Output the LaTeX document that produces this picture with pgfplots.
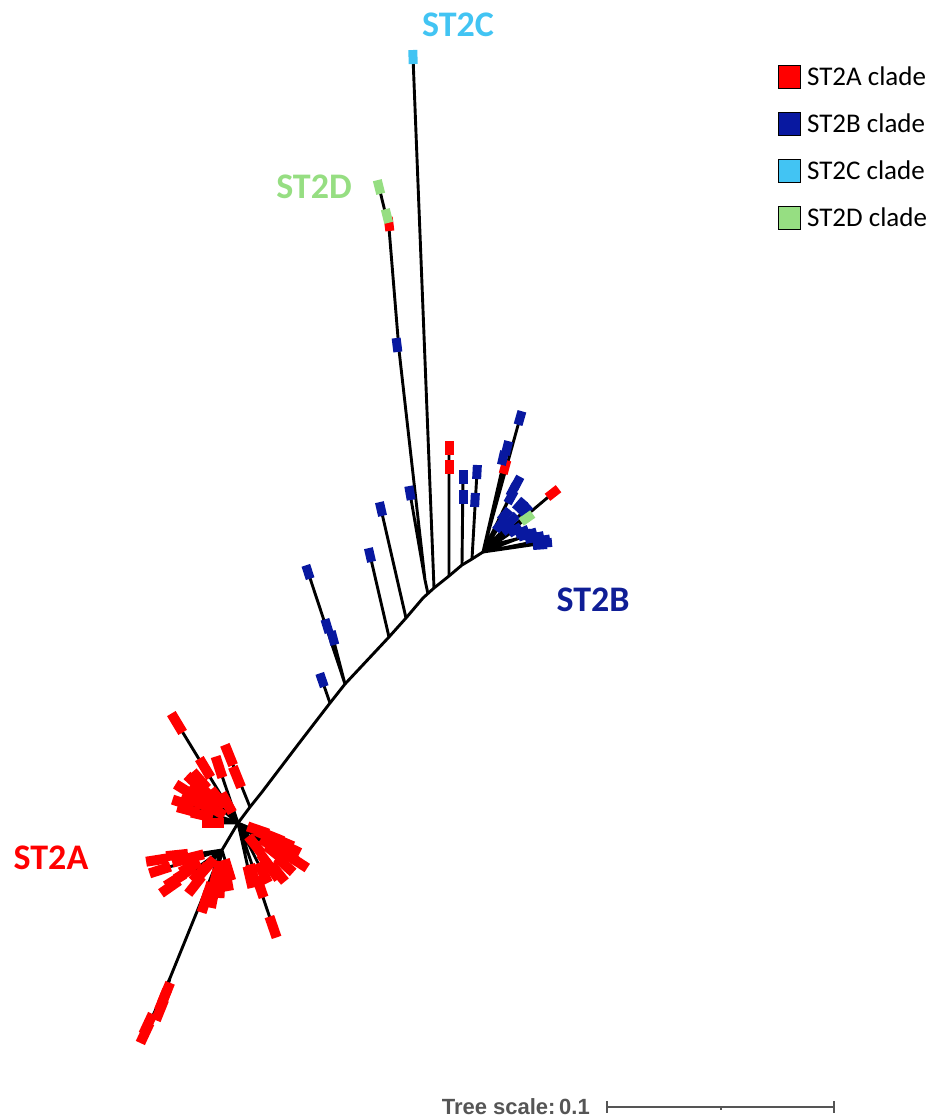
\documentclass[border=0pt]{standalone}
\usepackage{pgfplots}
\pgfplotsset{compat=1.18}
\usepackage{pgfplotstable}
\usepackage{fontspec}
\setmainfont{Carlito}
\newfontfamily\arialfont{Liberation Sans}
\definecolor{tipRed}{RGB}{255,0,0}
\definecolor{tipBlue}{RGB}{8,24,160}
\definecolor{tipCyan}{RGB}{66,196,243}
\definecolor{tipGreen}{RGB}{150,222,130}
\definecolor{lblBlue}{RGB}{15,30,150}
\definecolor{scaleGray}{RGB}{85,85,85}
\pgfdeclareplotmark{tipL}{\pgfpathrectangle{\pgfqpoint{-5pt}{-11pt}}{\pgfqpoint{10pt}{22pt}}\pgfusepathqfill}
\pgfdeclareplotmark{tipS}{\pgfpathrectangle{\pgfqpoint{-4.5pt}{-7pt}}{\pgfqpoint{9pt}{14pt}}\pgfusepathqfill}

% tips: x y rotation (pixel coordinates, y downward)
\pgfplotstableread{
x y a
177 723 31
205 768 31
229 755 22
237 777 22
219 767 18
195 783 47
202 788 46
210 800 51
188 810 75
202 815 77
213 823 90
218 798 39
227 803 29
197 795 56
192 800 65
205 806 62
183 803 72
185 790 58
200 780 41
215 810 60
298 862 57
283 842 67
280 850 57
275 853 51
278 873 39
272 870 36
267 863 36
265 835 66
258 830 71
273 837 68
260 887 19
253 875 16
273 927 19
263 873 27
250 877 13
288 855 55
290 848 64
270 845 55
285 865 48
255 845 38
157 860 -81
160 870 -72
170 887 -55
177 855 -84
183 860 -76
190 867 -62
200 873 -44
193 857 -76
207 867 -41
215 880 -13
220 887 -3
208 893 -18
213 897 -11
205 902 -18
228 870 17
227 880 10
185 873 -58
175 880 -58
195 885 -38
218 872 -10
145 1033 -25
148 1024 -25
160 1010 -22
163 1000 -22
166 993 -22
}\tipsRedA
\pgfplotstableread{
x y a
449 448 0
449 467 0
505 467 -15
553 493 -52
389 224 7
}\tipsRedB
\pgfplotstableread{
x y a
322 680 19
308 572 18
327 626 17
333 638 15
370 555 13
381 509 13
410 493 10
397 345 7
463 477 0
463 497 0
477 472 -3
475 500 -3
520 418 -16
507 448 -14
503 458 -13
517 483 -28
513 490 -28
511 497 -29
520 505 -41
525 510 -48
500 525 -37
508 528 -51
515 530 -60
522 532 -67
530 534 -73
537 537 -78
543 540 -82
545 543 -85
540 545 -86
532 538 -78
525 535 -72
512 520 -45
505 515 -40
}\tipsBlue
\pgfplotstableread{
x y a
413 57 2
}\tipsCyan
\pgfplotstableread{
x y a
379 187 14
387 216 14
527 518 -55
}\tipsGreen

\begin{document}
\begin{tikzpicture}
\begin{axis}[
  scale only axis, width=941pt, height=1120pt,
  xmin=0, xmax=941, ymin=0, ymax=1120, y dir=reverse,
  hide axis, clip=false,
  unbounded coords=jump,
  legend image code/.code={\draw[#1,draw=black,line width=0.9pt] (0pt,-11.5pt) rectangle (22pt,11.5pt);},
  legend style={at={(axis cs:775,63)}, anchor=north west, draw=none, fill=none,
    font=\fontsize{27}{30}\selectfont, row sep=23pt,
    nodes={inner ysep=1pt, inner xsep=6pt}},
  legend cell align=left,
  tips/.style={scatter, only marks, forget plot, point meta=\thisrow{a},
    visualization depends on={\thisrow{a} \as \ang},
    scatter/use mapped color={draw=none,fill=#1},
    scatter/@pre marker code/.append style={/tikz/rotate=\ang}},
  br/.style={black, line width=2.9pt, forget plot, no markers},
]
% backbone
\addplot[br] coordinates {(238,823)(250,807)(262,792)(300,742)(330,703)(345,684)(389,637)(406,618)(423,598)(434,588)(449,576)(462,565)(472,559)(483,552)(500,543)(520,538)(540,537)};
% side branches off backbone
\addplot[br] coordinates {
(330,703)(322,680) (nan,nan)
(345,684)(308,572) (nan,nan)
(345,684)(327,626) (nan,nan)
(345,684)(333,638) (nan,nan)
(389,637)(370,555) (nan,nan)
(406,618)(381,509) (nan,nan)
(428,594)(425,580)(410,493) (nan,nan)
(425,580)(399,350)(397,345) (nan,nan)
(399,350)(389,228)(379,187) (nan,nan)
(389,228)(387,216) (nan,nan)
(434,588)(413,57) (nan,nan)
(449,576)(449,450) (nan,nan)
(462,565)(463,477) (nan,nan)
(472,559)(477,472)
};
% ST2B fan
\addplot[br] coordinates {
(483,552)(520,418) (nan,nan)
(483,552)(507,448) (nan,nan)
(483,552)(505,467) (nan,nan)
(483,552)(517,483) (nan,nan)
(483,552)(513,490) (nan,nan)
(483,552)(525,510) (nan,nan)
(483,552)(553,493) (nan,nan)
(483,552)(527,518) (nan,nan)
(483,552)(500,525) (nan,nan)
(483,552)(512,520) (nan,nan)
(483,552)(515,530) (nan,nan)
(483,552)(530,534) (nan,nan)
(483,552)(543,540) (nan,nan)
(483,552)(545,543)
};
% ST2A branches
\addplot[br] coordinates {
(238,823)(177,723) (nan,nan)
(250,807)(229,755) (nan,nan)
(238,823)(219,767) (nan,nan)
(238,823)(195,783) (nan,nan)
(238,823)(210,800) (nan,nan)
(238,823)(188,810) (nan,nan)
(238,823)(202,815) (nan,nan)
(238,823)(213,823) (nan,nan)
(238,823)(227,803) (nan,nan)
(238,823)(183,803) (nan,nan)
(238,823)(298,862) (nan,nan)
(238,823)(283,842) (nan,nan)
(238,823)(275,853) (nan,nan)
(238,823)(278,873) (nan,nan)
(238,823)(267,863) (nan,nan)
(238,823)(265,835) (nan,nan)
(238,823)(273,927) (nan,nan)
(238,823)(263,873) (nan,nan)
(238,823)(250,877) (nan,nan)
(238,823)(222,850)(170,978)(145,1033) (nan,nan)
(170,978)(160,1010) (nan,nan)
(170,978)(166,993) (nan,nan)
(222,850)(157,860) (nan,nan)
(222,850)(160,870) (nan,nan)
(222,850)(170,887) (nan,nan)
(222,850)(183,860) (nan,nan)
(222,850)(200,873) (nan,nan)
(222,850)(207,867) (nan,nan)
(222,850)(215,880) (nan,nan)
(222,850)(205,902) (nan,nan)
(222,850)(213,897) (nan,nan)
(222,850)(228,870)
};
% tips
\addplot[tips=tipRed, mark=tipL] table[x=x,y=y] {\tipsRedA};
\addplot[tips=tipRed, mark=tipS] table[x=x,y=y] {\tipsRedB};
\addplot[tips=tipBlue, mark=tipS] table[x=x,y=y] {\tipsBlue};
\addplot[tips=tipCyan, mark=tipS] table[x=x,y=y] {\tipsCyan};
\addplot[tips=tipGreen, mark=tipS] table[x=x,y=y] {\tipsGreen};
% scale bar
\addplot[scaleGray, line width=1.3pt, forget plot, no markers] coordinates {
(607,1101)(607,1113) (nan,nan)
(607,1107)(834,1107) (nan,nan)
(834,1101)(834,1113) (nan,nan)
(721,1107)(721,1110)};
% clade labels
\node[font=\bfseries\fontsize{36}{36}\selectfont, text=tipCyan] at (axis cs:458,25) {ST2C};
\node[font=\bfseries\fontsize{36}{36}\selectfont, text=tipGreen] at (axis cs:314,187) {ST2D};
\node[font=\bfseries\fontsize{36}{36}\selectfont, text=lblBlue] at (axis cs:593,600) {ST2B};
\node[font=\bfseries\fontsize{36}{36}\selectfont, text=tipRed] at (axis cs:51,858) {ST2A};
\node[font=\arialfont\bfseries\fontsize{22}{22}\selectfont, text=scaleGray, anchor=base east, inner sep=0pt] at (axis cs:590,1114) {Tree scale:\,0.1};
\path (axis cs:0,0) rectangle (axis cs:941,1120);
% legend
\addlegendimage{fill=tipRed}\addlegendentry{ST2A clade}
\addlegendimage{fill=tipBlue}\addlegendentry{ST2B clade}
\addlegendimage{fill=tipCyan}\addlegendentry{ST2C clade}
\addlegendimage{fill=tipGreen}\addlegendentry{ST2D clade}
\end{axis}
\end{tikzpicture}
\end{document}
